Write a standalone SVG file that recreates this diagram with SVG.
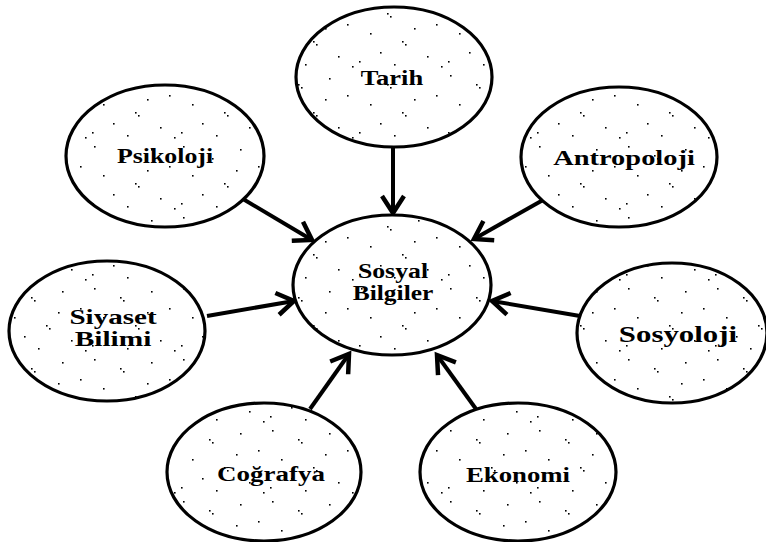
<svg xmlns="http://www.w3.org/2000/svg" width="766" height="542" viewBox="0 0 766 542">
<defs>
<pattern id="dots" patternUnits="userSpaceOnUse" width="89" height="71">
<rect width="89" height="71" fill="#fff"/>
<g fill="#000">
<rect x="5" y="4" width="1.6" height="1.6"/>
<rect x="31" y="13" width="1.6" height="1.6"/>
<rect x="34" y="16" width="1.6" height="1.6"/>
<rect x="62" y="7" width="1.6" height="1.6"/>
<rect x="80" y="24" width="1.6" height="1.6"/>
<rect x="14" y="33" width="1.6" height="1.6"/>
<rect x="46" y="41" width="1.6" height="1.6"/>
<rect x="49" y="44" width="1.6" height="1.6"/>
<rect x="71" y="56" width="1.6" height="1.6"/>
<rect x="3" y="61" width="1.6" height="1.6"/>
<rect x="24" y="52" width="1.6" height="1.6"/>
<rect x="58" y="28" width="1.6" height="1.6"/>
<rect x="85" y="66" width="1.6" height="1.6"/>
<rect x="38" y="64" width="1.6" height="1.6"/>
</g>
</pattern>
<marker id="arr" markerUnits="userSpaceOnUse" markerWidth="40" markerHeight="40" refX="0" refY="0" viewBox="-25 -20 30 40" orient="auto" overflow="visible">
<path d="M-17,-11 L0,0 L-17,11" fill="none" stroke="#000" stroke-width="4.5" stroke-linejoin="miter"/>
</marker>
</defs>
<style>
.node ellipse{fill:url(#dots);stroke:#000;stroke-width:3.2}
.node text{font-family:"Liberation Serif","Times New Roman",serif;font-weight:bold;font-size:21px;fill:#000;text-anchor:middle}
.edges line{stroke:#000;stroke-width:4;marker-end:url(#arr)}
</style>
<rect width="766" height="542" fill="#fff"/>
<g class="edges" id="connectors">
<line x1="393" y1="148" x2="393" y2="213"/>
<line x1="243" y1="199" x2="312" y2="240"/>
<line x1="543" y1="200" x2="474" y2="239"/>
<line x1="207" y1="316" x2="294" y2="301"/>
<line x1="580" y1="316" x2="492" y2="301"/>
<line x1="310" y1="409" x2="349" y2="354"/>
<line x1="476" y1="409" x2="437" y2="355"/>
</g>
<g class="node" id="sosyal-bilgiler">
<ellipse cx="392" cy="285" rx="99" ry="70"/>
<text transform="translate(393,278) scale(1.3,1)" textLength="54" lengthAdjust="spacingAndGlyphs">Sosyal</text>
<text transform="translate(393,300) scale(1.3,1)" textLength="62" lengthAdjust="spacingAndGlyphs">Bilgiler</text>
</g>
<g class="node" id="tarih">
<ellipse cx="394" cy="77" rx="98" ry="70"/>
<text transform="translate(392,85) scale(1.3,1)" textLength="48" lengthAdjust="spacingAndGlyphs">Tarih</text>
</g>
<g class="node" id="psikoloji">
<ellipse cx="165" cy="156" rx="99" ry="71"/>
<text transform="translate(165,163) scale(1.3,1)" textLength="74" lengthAdjust="spacingAndGlyphs" style="font-size:22px">Psikoloji</text>
</g>
<g class="node" id="antropoloji">
<ellipse cx="619" cy="157" rx="98" ry="70"/>
<text transform="translate(624,165) scale(1.3,1)" textLength="109" lengthAdjust="spacingAndGlyphs">Antropoloji</text>
</g>
<g class="node" id="siyaset-bilimi">
<ellipse cx="107" cy="331" rx="98" ry="70"/>
<text transform="translate(113,324) scale(1.3,1)" textLength="67" lengthAdjust="spacingAndGlyphs">Siyaset</text>
<text transform="translate(113,346) scale(1.3,1)" textLength="59" lengthAdjust="spacingAndGlyphs">Bilimi</text>
</g>
<g class="node" id="sosyoloji">
<ellipse cx="672" cy="333" rx="95" ry="70"/>
<text transform="translate(678,342) scale(1.3,1)" textLength="91" lengthAdjust="spacingAndGlyphs" style="font-size:24px">Sosyoloji</text>
</g>
<g class="node" id="cografya">
<ellipse cx="264" cy="472" rx="97" ry="69"/>
<text transform="translate(271,481) scale(1.3,1)" textLength="83" lengthAdjust="spacingAndGlyphs">Coğrafya</text>
</g>
<g class="node" id="ekonomi">
<ellipse cx="518" cy="472" rx="98" ry="69"/>
<text transform="translate(518,482) scale(1.3,1)" textLength="80" lengthAdjust="spacingAndGlyphs" style="font-size:22px">Ekonomi</text>
</g>
</svg>
